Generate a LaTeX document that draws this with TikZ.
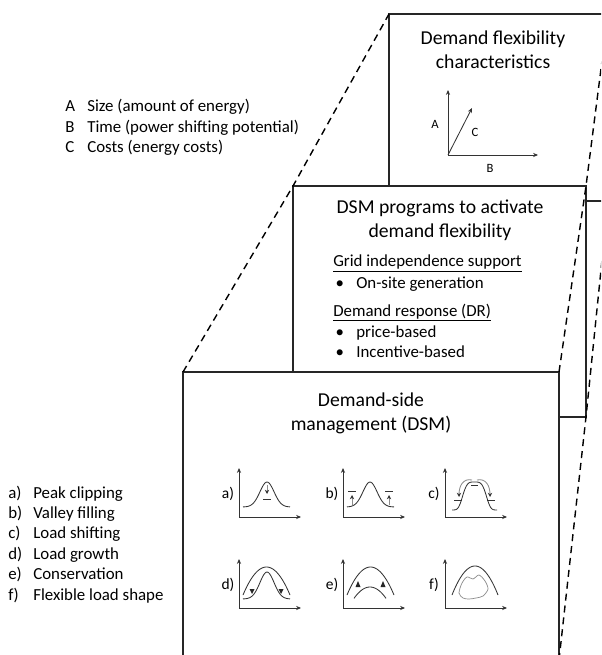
\documentclass[tikz,border=0pt]{standalone}
\usepackage{fontspec}
\setmainfont{Carlito}
\usetikzlibrary{arrows.meta}

\tikzset{
  panel/.style={draw=black!85, line width=1.1pt, fill=white},
  persp/.style={draw=black, line width=1pt, dash pattern=on 5pt off 3.5pt},
  head/.style={font=\fontsize{14}{17}\selectfont, align=center},
  txt/.style={font=\fontsize{12}{14.5}\selectfont, anchor=base west, inner sep=0pt},
  tiny/.style={font=\fontsize{9}{10}\selectfont, inner sep=0pt},
  glab/.style={font=\fontsize{11}{12}\selectfont, inner sep=0pt},
  ax/.style={draw=black!80, line width=0.6pt, -{Stealth[length=3.5pt, width=3pt]}},
  crv/.style={draw=black!80, line width=0.6pt},
  shft/.style={draw=black!45, line width=0.6pt, -{Stealth[length=3pt, width=3pt, black!80]}},
  tip/.style={fill=black!85},
}

\begin{document}
\begin{tikzpicture}[x=0.025cm, y=-0.025cm]
    % 1 unit = 1 px of the 601 x 655 layout, y runs downwards
    \useasboundingbox (0,0) rectangle (601,655);
    \clip (0,0) rectangle (601,655);
    \def\itm#1{\makebox[0.575cm][l]{\hspace{0.06cm}\textbullet}#1}
    % corners of the three stacked panels (back to front)
    \coordinate (fTL) at (389,14);  \coordinate (fTR) at (608,14);
    \coordinate (fBR) at (608,201);
    \coordinate (pTL) at (293,186); \coordinate (pTR) at (586,186);
    \coordinate (pBR) at (586,417);
    \coordinate (mTL) at (183,372); \coordinate (mTR) at (559,372);
    \coordinate (mBR) at (559,660);
    \draw[panel] (fTL) rectangle (fBR);
    \draw[panel] (pTL) rectangle (pBR);
    \draw[panel] (mTL) rectangle (mBR);
    % perspective guides through the corners
    \draw[persp] (mTL) -- (pTL) -- (fTL);
    \draw[persp] (mTR) -- (pTR) -- (fTR);
    \draw[persp] (mBR) -- (pBR) -- (fBR);
    % panel titles
    \node[head] (tflex) at (493,50) {Demand flexibility\\characteristics};
    \node[head] (tprog) at (440,220) {DSM programs to activate\\demand flexibility};
    \node[head] (tdsm) at (371,413) {Demand-side\\management (DSM)};
    % flexibility axes A, B, C
    \coordinate (o) at (448,155);
    \coordinate (yA) at (448,90);
    \coordinate (xB) at (538,155);
    \coordinate (dC) at (472,108);
    \draw[ax] (o) -- (yA);
    \draw[ax] (o) -- (xB);
    \draw[ax] (o) -- (dC);
    \node[tiny] (lA) at (435,124) {A};
    \node[tiny] (lB) at (490,168) {B};
    \node[tiny] (lC) at (475,132) {C};
    % programs list
    \node[txt] (grid) at (333,267) {\underline{Grid independence support}};
    \node[txt] (onsite) at (333,288) {\itm{On-site generation}};
    \node[txt] (dr) at (333,316) {\underline{Demand response (DR)}};
    \node[txt] (price) at (333,337) {\itm{price-based}};
    \node[txt] (incent) at (333,357) {\itm{Incentive-based}};
    % legends on the left
    \foreach \k/\t/\yy in {A/Size (amount of energy)/112, B/Time (power shifting potential)/132.5, C/Costs (energy costs)/153} {
        \node[txt] (key\k) at (65,\yy) {\k};
        \node[txt] (desc\k) at (87,\yy) {\t};
    }
    \foreach \k/\t [count=\i] in {a/Peak clipping, b/Valley filling, c/Load shifting, d/Load growth, e/Conservation, f/Flexible load shape} {
        \node[txt] (kl\k) at (8,{498+20.4*(\i-1)}) {\k)};
        \node[txt] (tl\k) at (33,{498+20.4*(\i-1)}) {\t};
    }
    % small load-shape plots: axes and labels
    \foreach \g/\ox/\oy in {a/239/517, b/343/517, c/445/517, d/239/608, e/343/608, f/445/608} {
        \coordinate (o\g) at (\ox,\oy);
        \draw[ax] (o\g) -- ++(0,-49);
        \draw[ax] (o\g) -- ++(62,0);
        \node[glab] (l\g) at (\ox-11,\oy-23) {\g)};
    }
    % a) peak clipping
    \begin{scope}[shift={(oa)}]
        \draw[crv] plot[domain=4:51, samples=40] (\x,{-10-25*exp(-(((\x-28)/10)^2))});
        \draw[shft] (28,-32) -- (28,-23);
        \draw[crv] (24,-18) -- (32,-18);
    \end{scope}
    % b) valley filling
    \begin{scope}[shift={(ob)}]
        \draw[crv] plot[domain=4:51, samples=40] (\x,{-10-25*exp(-(((\x-27)/10)^2))});
        \foreach \vx in {9,46} {
            \draw[shft] (\vx,-12) -- (\vx,-22);
            \draw[crv] (\vx-4,-26) -- (\vx+4,-26);
        }
    \end{scope}
    % c) load shifting
    \begin{scope}[shift={(oc)}]
        \draw[crv] plot[domain=7:52, samples=50] (\x,{-7-28*exp(-(((\x-29.5)/13)^4))});
        \draw[shft] (27,-37) .. controls (18,-39) and (14,-31) .. (14,-20);
        \draw[shft] (32,-37) .. controls (41,-39) and (45,-31) .. (45,-20);
        \draw[crv] (9,-17) -- (17,-17);
        \draw[crv] (42,-17) -- (50,-17);
        \draw[crv] (26,-32) -- (33,-32);
    \end{scope}
    % d) load growth
    \begin{scope}[shift={(od)}]
        \draw[crv] plot[domain=4:51, samples=40] (\x,{-41+28*((\x-27.5)/23.5)^2});
        \draw[crv] plot[domain=4:51, samples=40] (\x,{-9-27*exp(-(((\x-28)/10)^2))});
        \fill[tip] (10.5,-19) -- (15.5,-19) -- (13,-14) -- cycle;
        \fill[tip] (39.5,-19) -- (44.5,-19) -- (42,-14) -- cycle;
    \end{scope}
    % e) conservation
    \begin{scope}[shift={(oe)}]
        \draw[crv] plot[domain=4:51, samples=40] (\x,{-41+28*((\x-27.5)/23.5)^2});
        \draw[crv] plot[domain=11:43, samples=30] (\x,{-21+10*((\x-27)/15)^2});
        \fill[tip] (12.5,-21) -- (17.5,-21) -- (15,-27) -- cycle;
        \fill[tip] (37.5,-21) -- (42.5,-21) -- (40,-27) -- cycle;
    \end{scope}
    % f) flexible load shape
    \begin{scope}[shift={(of)}]
        \draw[crv] plot[domain=7:53, samples=40] (\x,{-42+29*((\x-30)/23)^2});
        \draw[draw=black!45, line width=0.5pt] plot[smooth cycle] coordinates {(14,-15) (17,-25) (22,-31) (28,-29) (34,-33) (40,-27) (43,-19) (38,-12) (31,-10) (24,-9) (18,-10)};
    \end{scope}
\end{tikzpicture}
\end{document}
